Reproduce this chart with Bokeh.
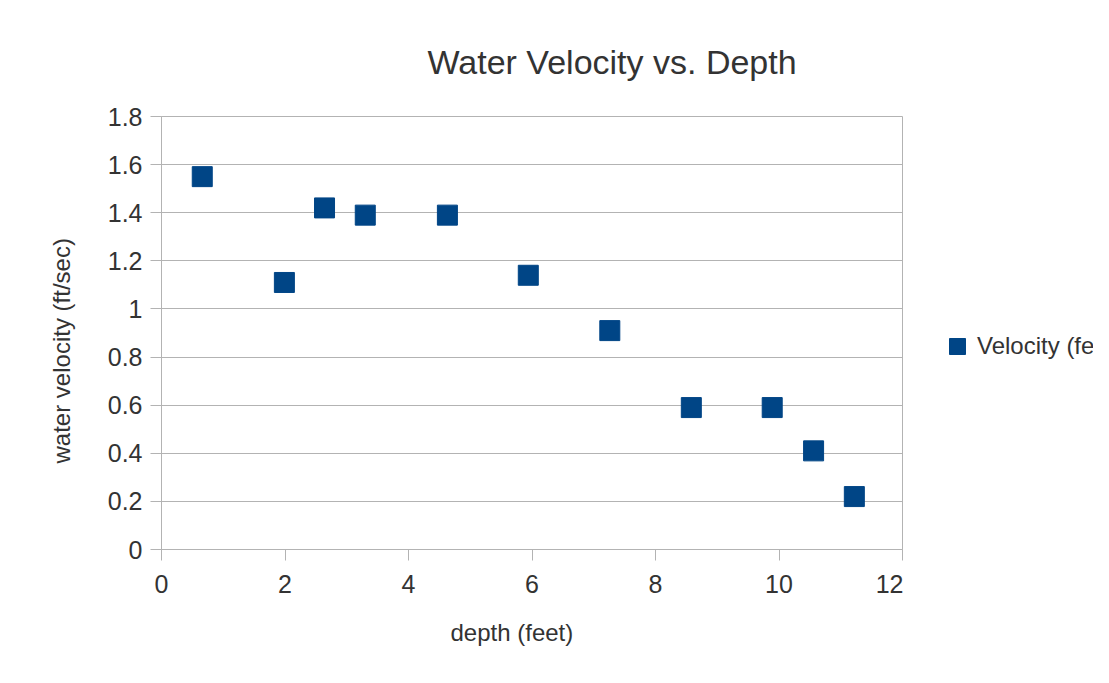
from bokeh.plotting import figure
from bokeh.layouts import row
from bokeh.models import (Range1d, SingleIntervalTicker, NumeralTickFormatter,
                          Legend, LegendItem, Title)
from bokeh.embed import file_html
from bokeh.resources import INLINE

# data
depth_ft = [0.66, 1.99, 2.64, 3.30, 4.63, 5.94, 7.26, 8.58, 9.89, 10.56, 11.22]
velocity_ftps = [1.55, 1.11, 1.42, 1.39, 1.39, 1.14, 0.91, 0.59, 0.59, 0.41, 0.22]
series_name = "Velocity (feet/sec)"
title_text = "Water Velocity vs. Depth"
x_label = "depth (feet)"
y_label = "water velocity (ft/sec)"

FONT = "Liberation Sans"
TXT = "#333333"
GRID = "#b3b3b3"
BLUE = "#004586"

W, H = 1093, 667
MAIN_W = 903

p = figure(width=MAIN_W, height=H, output_backend="svg", toolbar_location=None,
           x_range=Range1d(0, 12), y_range=Range1d(0, 1.8),
           min_border_left=161, min_border_right=1,
           min_border_top=116, min_border_bottom=H - 549)
p.title = None

t = Title(text=title_text, align="left", offset=266, standoff=72,
          text_font=FONT, text_font_size="34px", text_color=TXT,
          text_font_style="normal")
p.add_layout(t, "above")

r = p.scatter(depth_ft, velocity_ftps, marker="square", size=20,
              fill_color=BLUE, line_color=BLUE)

p.xaxis.ticker = SingleIntervalTicker(interval=2)
p.yaxis.ticker = SingleIntervalTicker(interval=0.2)
p.yaxis.formatter = NumeralTickFormatter(format="0.[0]")

for ax in (p.xaxis[0], p.yaxis[0]):
    ax.axis_line_color = GRID
    ax.major_tick_line_color = GRID
    ax.major_tick_out = 11
    ax.major_tick_in = 0
    ax.minor_tick_line_color = None
    ax.major_label_text_font = FONT
    ax.major_label_text_font_size = "25px"
    ax.major_label_text_color = TXT

p.yaxis.major_label_standoff = 8
p.xaxis.major_label_standoff = 14
p.xaxis.major_label_text_line_height = 1.0

# axis titles, placed off-centre as in the reference
xt = Title(text=x_label, align="left", offset=289, standoff=42,
           text_font=FONT, text_font_size="24px", text_color=TXT,
           text_font_style="normal", text_line_height=1.0)
p.add_layout(xt, "below")
yt = Title(text=y_label, align="left", offset=86, standoff=60,
           text_font=FONT, text_font_size="24px", text_color=TXT,
           text_font_style="normal")
p.add_layout(yt, "left")

p.xgrid.grid_line_color = None
p.ygrid.grid_line_color = GRID
p.outline_line_color = GRID
p.background_fill_color = "white"
p.border_fill_color = "white"

# side panel carrying the legend (proxy renderer, hidden)
lf = figure(width=W - MAIN_W, height=H, output_backend="svg", toolbar_location=None,
            x_axis_type=None, y_axis_type=None,
            x_range=Range1d(0, 1), y_range=Range1d(0, 1),
            min_border=0)
lf.title = None
lf.grid.grid_line_color = None
lf.outline_line_color = None
lf.border_fill_color = "white"
proxy = lf.scatter(depth_ft, velocity_ftps, marker="square", size=20,
                   fill_color=BLUE, line_color=BLUE, visible=False)

legend = Legend(items=[LegendItem(label=series_name, renderers=[proxy])],
                location=(34, 183), padding=0, margin=0, spacing=0,
                glyph_width=40, glyph_height=40, label_standoff=0,
                border_line_color=None, background_fill_alpha=0,
                label_text_font=FONT, label_text_font_size="24px",
                label_text_color=TXT)
lf.add_layout(legend, "center")

layout = row(p, lf, spacing=0)
open("out.html", "w").write(file_html(layout, INLINE))
